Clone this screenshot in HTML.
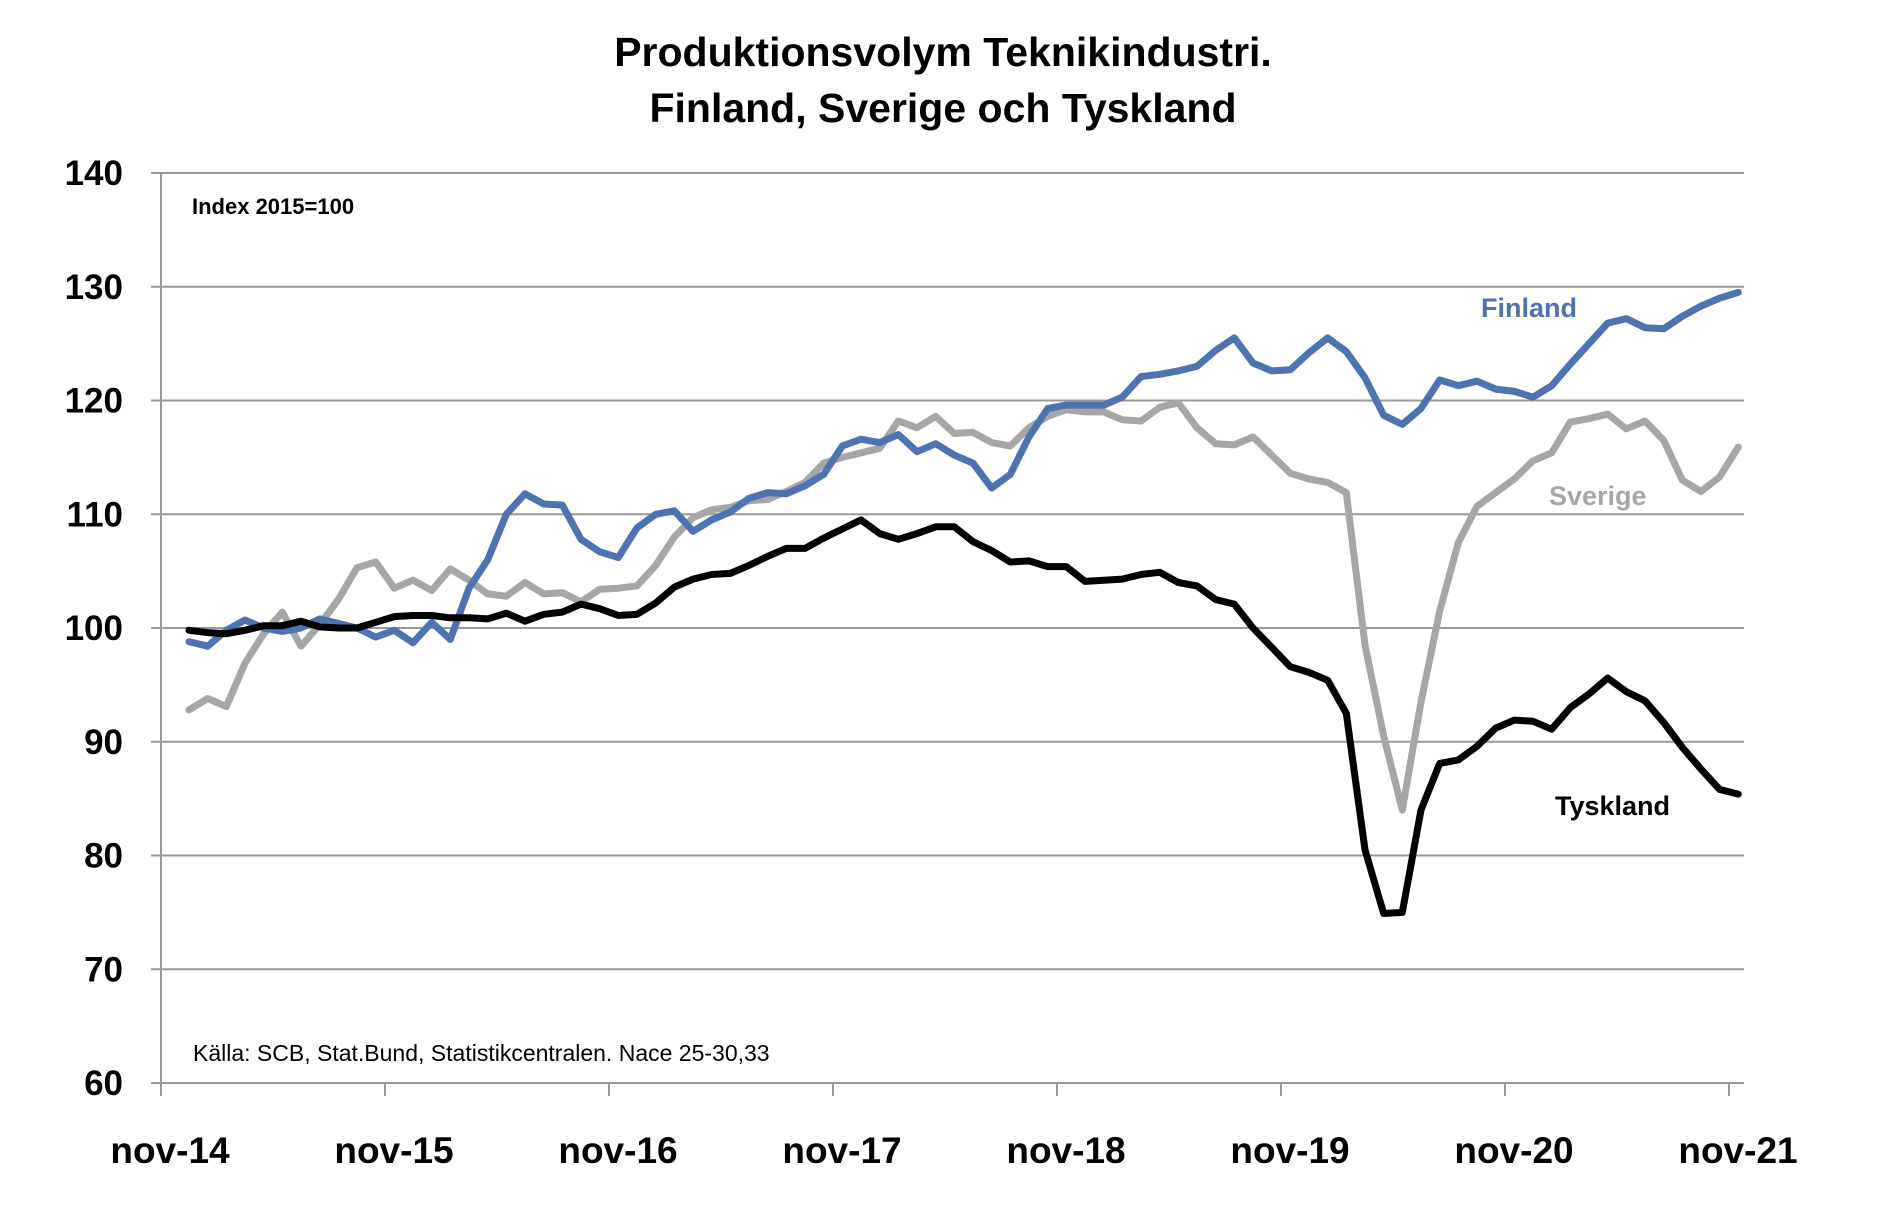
<!DOCTYPE html>
<html><head><meta charset="utf-8"><style>
html,body{margin:0;padding:0;background:#fff;}
body{width:1898px;height:1210px;overflow:hidden;font-family:"Liberation Sans",Arial,sans-serif;}
svg text{font-family:"Liberation Sans",Arial,sans-serif;}
</style></head><body>
<svg id="chart" width="1898" height="1210" xmlns="http://www.w3.org/2000/svg">
<text x="943" y="66" text-anchor="middle" font-size="41" font-weight="bold">Produktionsvolym Teknikindustri.</text>
<text x="943" y="122" text-anchor="middle" font-size="41" font-weight="bold">Finland, Sverige och Tyskland</text>
<g id="grid"></g>
<g id="yticks"></g>
<g id="xticks"></g>
<g id="series"></g>
<text x="192" y="214" font-size="22" font-weight="bold">Index 2015=100</text>
<text x="193" y="1061" font-size="23">Källa: SCB, Stat.Bund, Statistikcentralen. Nace 25-30,33</text>
<text x="1481" y="317" font-size="27" font-weight="bold" fill="#4f72b1">Finland</text>
<text x="1549" y="505" font-size="27" font-weight="bold" fill="#a6a6a6">Sverige</text>
<text x="1555" y="815" font-size="27" font-weight="bold" fill="#000">Tyskland</text>
</svg>
<script>
const yTicks = [60,70,80,90,100,110,120,130,140];
const xTickLabels = ["nov-14","nov-15","nov-16","nov-17","nov-18","nov-19","nov-20","nov-21"];
const finland = [98.8,98.4,99.8,100.7,100.0,99.7,100.0,100.8,100.4,100.0,99.2,99.8,98.7,100.5,99.0,103.5,106,110,111.8,110.9,110.8,107.8,106.7,106.2,108.8,110.0,110.3,108.5,109.5,110.2,111.4,111.9,111.8,112.5,113.5,116.0,116.6,116.3,117.0,115.5,116.2,115.2,114.5,112.3,113.5,116.8,119.3,119.6,119.6,119.6,120.3,122.1,122.3,122.6,123.0,124.4,125.5,123.3,122.6,122.7,124.2,125.5,124.3,122.0,118.7,117.9,119.3,121.8,121.3,121.7,121.0,120.8,120.3,121.3,123.2,125.0,126.8,127.2,126.4,126.3,127.4,128.3,129.0,129.5];
const sverige = [92.8,93.8,93.1,96.9,99.5,101.4,98.4,100.3,102.5,105.3,105.8,103.5,104.2,103.3,105.2,104.2,103.0,102.8,104.0,103.0,103.1,102.3,103.4,103.5,103.7,105.5,108.0,109.7,110.4,110.6,111.2,111.3,112.0,112.8,114.5,115.0,115.4,115.8,118.2,117.6,118.6,117.1,117.2,116.3,116.0,117.6,118.6,119.2,119.0,119.0,118.3,118.2,119.4,119.8,117.6,116.2,116.1,116.8,115.2,113.6,113.1,112.8,111.9,98.5,90.5,84.0,93.5,101.5,107.5,110.7,111.9,113.1,114.7,115.4,118.1,118.4,118.8,117.5,118.2,116.5,113.0,112.0,113.3,115.9];
const tyskland = [99.8,99.6,99.5,99.8,100.2,100.2,100.6,100.1,100.0,100.0,100.5,101.0,101.1,101.1,100.9,100.9,100.8,101.3,100.6,101.2,101.4,102.1,101.7,101.1,101.2,102.2,103.6,104.3,104.7,104.8,105.5,106.3,107.0,107.0,107.9,108.7,109.5,108.3,107.8,108.3,108.9,108.9,107.6,106.8,105.8,105.9,105.4,105.4,104.1,104.2,104.3,104.7,104.9,104.0,103.7,102.5,102.1,100.0,98.3,96.6,96.1,95.4,92.5,80.5,74.9,75.0,84.0,88.1,88.4,89.6,91.2,91.9,91.8,91.1,93.0,94.2,95.6,94.4,93.6,91.7,89.5,87.6,85.8,85.4];

const NS="http://www.w3.org/2000/svg";
const X0=161, X1=1744, MONTH=224/12, FIRST=189/1;
const yScale = v => 1083 - (v-60)*(910/80);
const xScale = i => FIRST + i*MONTH;
const xTickPos = k => X0 + k*224;
function mk(tag, attrs, parent){const e=document.createElementNS(NS,tag);for(const k in attrs)e.setAttribute(k,attrs[k]);parent.appendChild(e);return e;}
const grid=document.getElementById('grid'), yt=document.getElementById('yticks'), xt=document.getElementById('xticks'), ser=document.getElementById('series');
yTicks.forEach(v=>{
  const y=yScale(v);
  const l=mk('line',{x1:X0-10,x2:X1,y1:y,y2:y,stroke:'#999','stroke-width':2},grid);
  
  
  const t=mk('text',{x:123,y:y+12,'text-anchor':'end','font-size':35,'font-weight':'bold'},yt);
  t.textContent=v;
  
  
});
const ax=mk('line',{x1:X0,x2:X0,y1:yScale(140),y2:yScale(60)+12,stroke:'#999','stroke-width':2},grid);


xTickLabels.forEach((s,k)=>{
  const x=xTickPos(k);
  const tk=mk('line',{x1:x,x2:x,y1:yScale(60),y2:yScale(60)+13,stroke:'#999','stroke-width':2},xt);
  
  
  const t=mk('text',{x:x+9,y:1163,'text-anchor':'middle','font-size':37,'font-weight':'bold'},xt);
  t.textContent=s;
  
  
});
function line(data,color,name){
  const d=data.map((v,i)=>(i?'L':'M')+xScale(i).toFixed(1)+','+yScale(v).toFixed(1)).join('');
  const p=mk('path',{d:d,fill:'none',stroke:color,'stroke-width':7,'stroke-linejoin':'round','stroke-linecap':'round'},ser);
  
  
}
line(sverige,'#a6a6a6','line-sverige');
line(finland,'#4f72b1','line-finland');
line(tyskland,'#000000','line-tyskland');
</script>
</body></html>
